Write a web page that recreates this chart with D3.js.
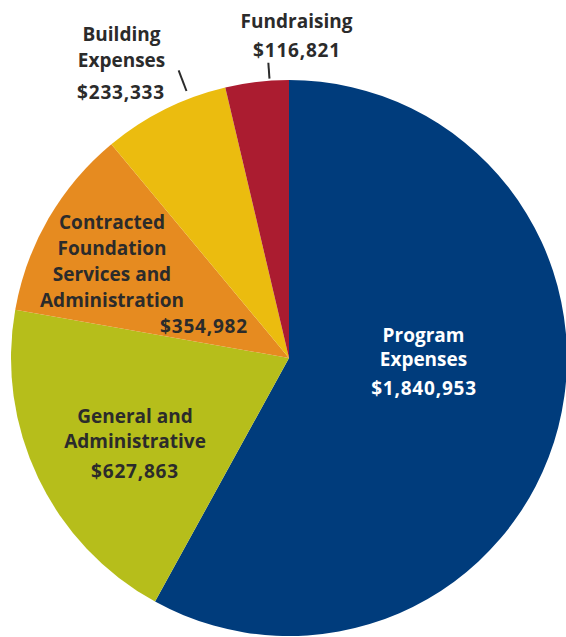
<!DOCTYPE html>
<meta charset="utf-8">
<html><head>
<style>
body { margin: 0; background: #fff; }
text {
  font-family: "Open Sans", sans-serif;
  font-weight: 700;
  font-size: 19px;
}
.amount { letter-spacing: 0.8px; }
</style>
</head>
<body>
<svg width="566" height="637"></svg>
<script src="https://d3js.org/d3.v7.min.js"></script>
<script>

// data
var categories = ["Program Expenses", "General and Administrative",
  "Contracted Foundation Services and Administration", "Building Expenses", "Fundraising"];
var amounts = [1840953, 627863, 354982, 233333, 116821];
var labelLines = [
  ["Program", "Expenses"],
  ["General and", "Administrative"],
  ["Contracted", "Foundation", "Services and", "Administration"],
  ["Building", "Expenses"],
  ["Fundraising"]
];
var colors = ["#003c7c", "#b6be1b", "#e68b20", "#ebbc0f", "#ab1c30"];

var svg = d3.select("svg"),
    cx = 289, cy = 358, r = 278;

var g = svg.append("g").attr("transform", "translate(" + cx + "," + cy + ")");

var pie = d3.pie().sort(null).value(function(d) { return d; });
var arc = d3.arc().innerRadius(0).outerRadius(r);
var arcs = pie(amounts);

g.selectAll("path")
    .data(arcs)
    .enter().append("path")
    .attr("d", arc)
    .attr("fill", function(d, i) { return colors[i]; });

var fmt = d3.format("$,");

// label placement (offsets from centre), hand tuned
var place = [
  {x: 134.5, y: -16, dy: 24, vx: 135, vy: 37, fill: "#fff"},
  {x: -154, y: 65, dy: 25, vx: -154, vy: 120, fill: "#2b2b2b"},
  {x: -177, y: -129, dy: 26, vx: -85, vy: -25, fill: "#2b2b2b"},
  {x: -167.5, y: -317, dy: 25.5, vx: -168, vy: -259, fill: "#2b2b2b"},
  {x: 7.5, y: -330, dy: 25, vx: 8, vy: -301, fill: "#2b2b2b"}
];

arcs.forEach(function(a, i) {
  var p = place[i];
  var t = g.append("text")
      .attr("text-anchor", "middle")
      .attr("fill", p.fill);
  labelLines[i].forEach(function(line, j) {
    t.append("tspan")
      .attr("x", p.x)
      .attr("y", p.y + j * p.dy)
      .text(line);
  });
  g.append("text")
      .attr("class", "amount")
      .attr("text-anchor", "middle")
      .attr("fill", p.fill)
      .attr("x", p.vx)
      .attr("y", p.vy)
      .text(fmt(amounts[i]));
});

// leader lines for the two small slices
var leaders = [
  {i: 3, angle: 339, r0: r + 8, r1: r + 30},
  {i: 4, angle: 356, r0: r + 2, r1: r + 18}
];
leaders.forEach(function(l) {
  var a = l.angle * Math.PI / 180;
  g.append("line")
      .attr("x1", Math.sin(a) * l.r0)
      .attr("y1", -Math.cos(a) * l.r0)
      .attr("x2", Math.sin(a) * l.r1)
      .attr("y2", -Math.cos(a) * l.r1)
      .attr("stroke", "#2b2b2b")
      .attr("stroke-width", 2);
});

</script>
</body>
</html>
